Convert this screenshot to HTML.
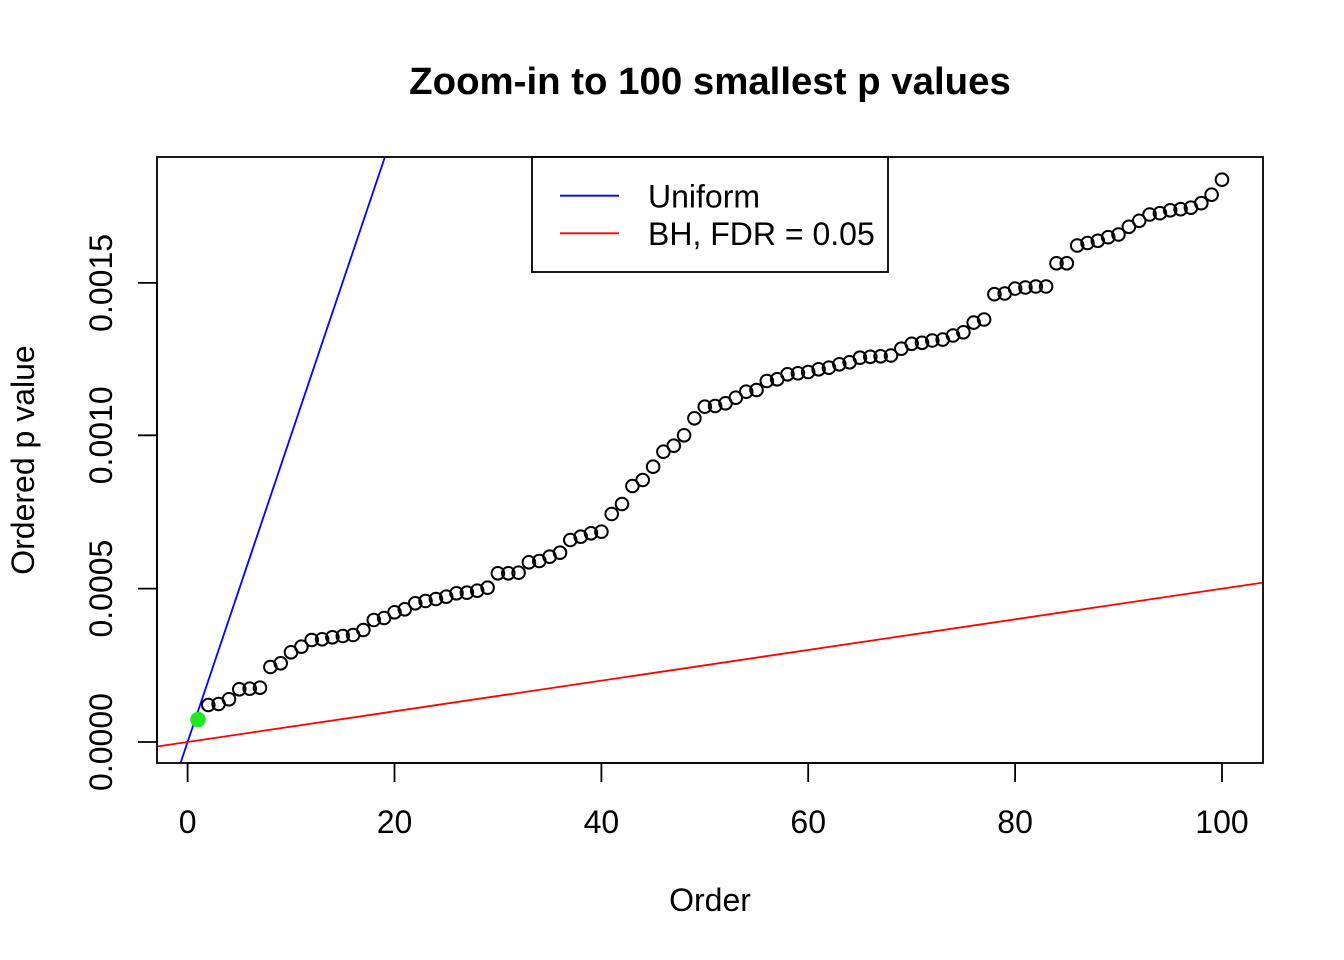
<!DOCTYPE html>
<html>
<head>
<meta charset="utf-8">
<style>
  html, body { margin: 0; padding: 0; background: #ffffff; }
  svg { display: block; }
  text { font-family: "Liberation Sans", Arial, sans-serif; fill: #000; }
</style>
</head>
<body>
<svg width="1344" height="960" viewBox="0 0 1344 960" xmlns="http://www.w3.org/2000/svg">
  <defs>
    <clipPath id="plotclip">
      <rect x="157" y="157" width="1106" height="606"/>
    </clipPath>
    <marker id="pt" markerUnits="userSpaceOnUse" markerWidth="20" markerHeight="20" refX="10" refY="10" overflow="visible">
      <circle cx="10" cy="10" r="6.3" fill="none" stroke="#000" stroke-width="2"/>
    </marker>
  </defs>
  <rect x="0" y="0" width="1344" height="960" fill="#ffffff"/>
  <text x="710" y="94" font-size="38.4" font-weight="bold" text-anchor="middle">Zoom-in to 100 smallest p values</text>
  <g clip-path="url(#plotclip)">
    <line x1="180.5" y1="763" x2="384.9" y2="157" stroke="#0000ff" stroke-width="1.8"/>
    <line x1="157" y1="746.5" x2="1263" y2="582.6" stroke="#ff0000" stroke-width="1.8"/>
  </g>
  <polyline fill="none" stroke="none" marker-start="url(#pt)" marker-mid="url(#pt)" marker-end="url(#pt)" points="208.3,705 218.6,704 229.0,699.3 239.3,689.3 249.7,688.7 260.0,687.7 270.4,667 280.7,663.3 291.0,652.3 301.4,646.7 311.7,640 322.1,639.3 332.4,637.3 342.8,636 353.1,635 363.4,630 373.8,620 384.1,618 394.5,612.3 404.8,609.3 415.2,603.3 425.5,601 435.9,599 446.2,596.7 456.5,593.3 466.9,592.7 477.2,590.7 487.6,587.7 497.9,573.3 508.3,573.3 518.6,572.7 528.9,562.3 539.3,561 549.6,556.7 560.0,552.7 570.3,540 580.7,536.7 591.0,533.3 601.4,531.7 611.7,514 622.0,504 632.4,486 642.7,480 653.1,466.7 663.4,451.7 673.8,445.7 684.1,435.3 694.4,418.3 704.8,406.7 715.1,406 725.5,403.3 735.8,397.7 746.2,391.7 756.5,390 766.8,381 777.2,379.3 787.5,374.3 797.9,373.3 808.2,372 818.6,369.3 828.9,367.7 839.3,364.3 849.6,362.3 859.9,357.7 870.3,356.8 880.6,356.3 891.0,355.5 901.3,348.7 911.7,343.8 922.0,342.8 932.3,340.5 942.7,339.6 953.0,335.5 963.4,332.3 973.7,322.6 984.1,319.5 994.4,294.2 1004.7,293.5 1015.1,288.6 1025.4,287.5 1035.8,286.5 1046.1,286.5 1056.5,263.3 1066.8,263.3 1077.2,245.5 1087.5,243 1097.8,240.8 1108.2,237.2 1118.5,234.5 1128.9,226.8 1139.2,220.8 1149.6,214.5 1159.9,213.2 1170.2,210.3 1180.6,209.2 1190.9,207.7 1201.3,203.2 1211.6,194.7 1222.0,179.7"/>
  <circle cx="198" cy="719.5" r="7.8" fill="#1FEA1F"/>
  <rect x="157" y="157" width="1106" height="606" fill="none" stroke="#000" stroke-width="1.8"/>
  <path d="M187.6 763H1222M187.6 763V782M394.5 763V782M601.4 763V782M808.2 763V782M1015.1 763V782M1222 763V782" stroke="#000" stroke-width="1.8" fill="none"/>
  <g font-size="32" text-anchor="middle">
    <text x="187.6" y="833">0</text>
    <text x="394.5" y="833">20</text>
    <text x="601.4" y="833">40</text>
    <text x="808.2" y="833">60</text>
    <text x="1015.1" y="833">80</text>
    <text x="1222" y="833">100</text>
  </g>
  <path d="M157 742V282.9M138 742H157M138 588.6H157M138 435.3H157M138 282.9H157" stroke="#000" stroke-width="1.8" fill="none"/>
  <g font-size="32" text-anchor="middle">
    <text transform="translate(112,742) rotate(-90)">0.0000</text>
    <text transform="translate(112,588.6) rotate(-90)">0.0005</text>
    <text transform="translate(112,435.3) rotate(-90)">0.0010</text>
    <text transform="translate(112,282.9) rotate(-90)">0.0015</text>
  </g>
  <text x="710" y="911" font-size="32" text-anchor="middle">Order</text>
  <text transform="translate(34,460) rotate(-90)" font-size="32" text-anchor="middle">Ordered p value</text>
  <rect x="532" y="157" width="356" height="115" fill="#ffffff" stroke="#000" stroke-width="1.8"/>
  <line x1="560" y1="195.7" x2="619" y2="195.7" stroke="#0000ff" stroke-width="1.8"/>
  <line x1="560" y1="233.3" x2="619" y2="233.3" stroke="#ff0000" stroke-width="1.8"/>
  <text x="648" y="207.3" font-size="32">Uniform</text>
  <text x="648" y="245" font-size="32">BH, FDR = 0.05</text>
</svg>
</body>
</html>
